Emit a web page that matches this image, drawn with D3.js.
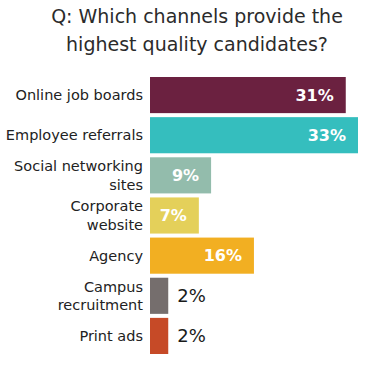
<!DOCTYPE html>
<html>
<head>
<meta charset="utf-8">
<script src="https://cdn.jsdelivr.net/npm/d3@7"></script>
<style>
  body { margin: 0; background: #fff; }
  svg { display: block; font-family: "DejaVu Sans", sans-serif; }
</style>
</head>
<body>
<div id="chart"></div>
<script>
// --- chart data ---
const titleLines = ["Q: Which channels provide the", "highest quality candidates?"];
const channels = [
  ["Online job boards"],
  ["Employee referrals"],
  ["Social networking", "sites"],
  ["Corporate", "website"],
  ["Agency"],
  ["Campus", "recruitment"],
  ["Print ads"]
];
const shares = [31, 33, 9, 7, 16, 2, 2];
const barColors = ["#6b2140", "#35bebe", "#93bcac", "#e4d05a", "#f2af22", "#756e6d", "#c64a27"];

const W = 368, H = 370;
const svg = d3.select("#chart").append("svg")
  .attr("width", W).attr("height", H);

// title
svg.append("g").selectAll("text")
  .data(titleLines)
  .enter().append("text")
  .attr("x", 197)
  .attr("y", (d, i) => 23 + i * 28)
  .attr("text-anchor", "middle")
  .attr("font-size", 19)
  .attr("fill", "#2b2b2b")
  .text(d => d);

// scales
const y = d3.scaleBand()
  .domain(d3.range(channels.length))
  .range([77, 354])
  .paddingInner(0.1);

const x = d3.scaleLinear()
  .domain([0, 33])
  .range([156, 358]);
const x0 = 150;

const rows = svg.append("g").selectAll("g")
  .data(shares)
  .enter().append("g");

rows.append("rect")
  .attr("x", x0)
  .attr("y", (d, i) => y(i))
  .attr("width", d => x(d) - x0)
  .attr("height", y.bandwidth())
  .attr("fill", (d, i) => barColors[i]);

// value labels: inside for wide bars, outside for the tiny ones
rows.append("text")
  .attr("x", d => d > 5 ? x(d) - 12 : x(d) + 9)
  .attr("y", (d, i) => y(i) + y.bandwidth() / 2)
  .attr("dy", "0.36em")
  .attr("text-anchor", d => d > 5 ? "end" : "start")
  .attr("font-size", d => d > 5 ? 16 : 18)
  .attr("font-weight", d => d > 5 ? "bold" : "normal")
  .attr("fill", d => d > 5 ? "#fff" : "#1a1a1a")
  .text(d => d + "%");

// category labels
rows.append("text")
  .attr("x", 143)
  .attr("y", (d, i) => y(i) + y.bandwidth() / 2)
  .attr("text-anchor", "end")
  .attr("font-size", 14.5)
  .attr("fill", "#222")
  .each(function(d, i) {
    const lines = channels[i];
    const t = d3.select(this);
    lines.forEach((ln, j) => {
      t.append("tspan")
        .attr("x", 143)
        .attr("dy", j === 0 ? (0.36 - (lines.length - 1) * 0.65) + "em" : "1.3em")
        .text(ln);
    });
  });
</script>
</body>
</html>
